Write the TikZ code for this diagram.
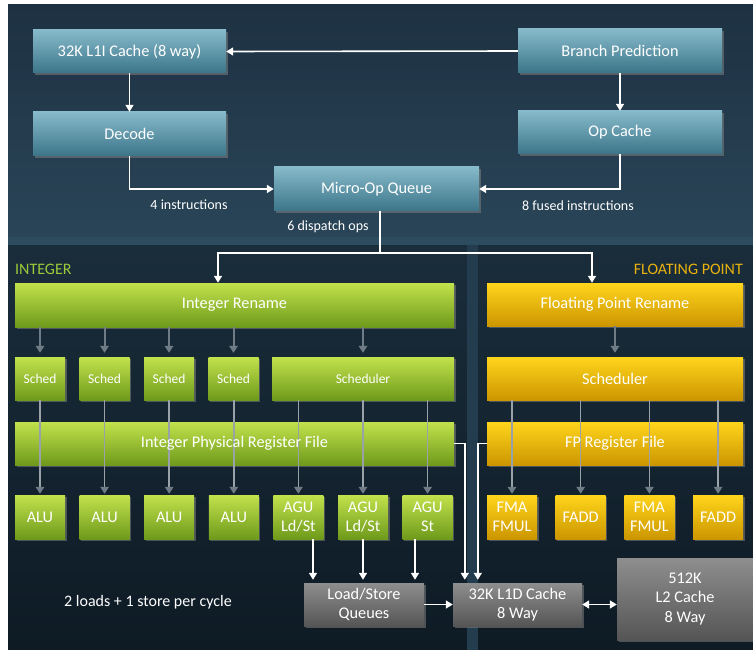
\documentclass[tikz,border=0pt]{standalone}
\usepackage{fontspec}
\setmainfont{Carlito}
\usepackage{tikz}
\usetikzlibrary{arrows.meta,shadows}

\definecolor{bgtop}{HTML}{1D3142}
\definecolor{bgmid}{HTML}{2A4558}
\definecolor{bgband}{HTML}{2E4C60}
\definecolor{bglow}{HTML}{1A2D3B}
\definecolor{bgdeep}{HTML}{0E1B25}
\definecolor{bgvert}{HTML}{233C4E}
\definecolor{tealtop}{HTML}{86BACA}
\definecolor{tealbot}{HTML}{3C7589}
\definecolor{greentop}{HTML}{C2E24C}
\definecolor{greenbot}{HTML}{6E9A1B}
\definecolor{goldtop}{HTML}{FFD51C}
\definecolor{goldbot}{HTML}{CC9600}
\definecolor{greytop}{HTML}{8E8E8E}
\definecolor{greybot}{HTML}{555555}
\definecolor{arrgrey}{HTML}{6F7C86}
\definecolor{passgrey}{HTML}{98A2A8}
\definecolor{intgreen}{HTML}{9CC93A}
\definecolor{fpgold}{HTML}{E8B10E}

\begin{document}
\begin{tikzpicture}[x=1pt, y=-1pt,
  blk/.style={rectangle, inner sep=0pt, align=center, text=white,
    font=\fontsize{16.3}{19.5}\selectfont,
    drop shadow={shadow xshift=1.5pt, shadow yshift=-2pt, opacity=0.55}},
  tealblk/.style={blk, top color=tealtop, bottom color=tealbot},
  greenblk/.style={blk, top color=greentop, bottom color=greenbot},
  goldblk/.style={blk, top color=goldtop, bottom color=goldbot},
  greyblk/.style={blk, top color=greytop, bottom color=greybot},
  lbl/.style={text=white, inner sep=0pt, font=\fontsize{14}{16}\selectfont},
  overtext/.style={text=white, inner sep=0pt, font=\fontsize{16.3}{19.5}\selectfont},
  wire/.style={draw=white, line width=1.6pt},
  wirearr/.style={wire, -{Triangle[length=7pt,width=8pt]}},
  greyarr/.style={draw=arrgrey, line width=2pt, -{Triangle[length=7pt,width=8.5pt]}},
  passarr/.style={draw=passgrey, line width=1.5pt,
    -{Triangle[length=7pt,width=8.5pt,color=arrgrey]}}
]

  % Hintergrund
  \useasboundingbox (0,0) rectangle (753,650);
  \fill[white] (0,0) rectangle (753,650);
  \fill[top color=bgtop, bottom color=bgmid] (8,5) rectangle (753,237);
  \fill[bgband] (8,237) rectangle (753,245);
  \fill[top color=bglow, bottom color=bgdeep] (8,245) rectangle (753,650);
  \fill[bgvert] (467,245) rectangle (478,650);

  % Front-End
  \node[tealblk, minimum width=193pt, minimum height=43pt] (l1i) at (129.5,51.5) {32K L1I Cache (8 way)};
  \node[tealblk, minimum width=204pt, minimum height=44pt] (bp)  at (620,51)     {Branch Prediction};
  \node[tealblk, minimum width=193pt, minimum height=44pt] (dec) at (129.5,134)  {Decode};
  \node[tealblk, minimum width=204pt, minimum height=43pt] (opc) at (620,132.5)  {Op Cache};
  \node[tealblk, minimum width=205pt, minimum height=44pt] (moq) at (376.5,189)  {Micro-Op Queue};

  % Integer-Teil
  \node[text=intgreen, anchor=west, inner sep=0pt, font=\fontsize{16}{19}\selectfont] (intlbl) at (15,269) {INTEGER};
  \node[greenblk, minimum width=439pt, minimum height=44pt] (irn) at (234.5,305) {Integer Rename};
  \foreach \i in {1,...,4}{
    \node[greenblk, minimum width=50pt, minimum height=43pt, font=\fontsize{13.5}{16}\selectfont]
      (s\i) at ({40+64.5*(\i-1)},378.5) {Sched};
  }
  \node[greenblk, minimum width=182pt, minimum height=43pt, font=\fontsize{13.5}{16}\selectfont]
    (sch) at (363,378.5) {Scheduler};
  \node[greenblk, minimum width=439pt, minimum height=43pt] (iprf) at (234.5,443.5) {};
  \foreach \i/\t in {1/ALU,2/ALU,3/ALU,4/ALU,5/{AGU\\Ld/St},6/{AGU\\Ld/St},7/{AGU\\St}}{
    \node[greenblk, minimum width=50pt, minimum height=44pt] (u\i) at ({40+64.6*(\i-1)},517) {\t};
  }

  % Floating-Point-Teil
  \node[text=fpgold, anchor=east, inner sep=0pt, font=\fontsize{16}{19}\selectfont] (fplbl) at (743,269) {FLOATING POINT};
  \node[goldblk, minimum width=256pt, minimum height=43pt] (frn)  at (615,304.5) {Floating Point Rename};
  \node[goldblk, minimum width=256pt, minimum height=43pt] (fsch) at (615,378.5) {Scheduler};
  \node[goldblk, minimum width=256pt, minimum height=43pt] (fprf) at (615,443.5) {};
  \foreach \i/\t in {1/{FMA\\FMUL},2/FADD,3/{FMA\\FMUL},4/FADD}{
    \node[goldblk, minimum width=50pt, minimum height=44pt] (f\i) at ({512+68.7*(\i-1)},517) {\t};
  }

  % Speicher
  \node[greyblk, minimum width=120pt, minimum height=43pt] (lsq) at (364,604.5)   {Load/Store\\Queues};
  \node[greyblk, minimum width=129pt, minimum height=43pt] (l1d) at (517.5,604.5) {32K L1D Cache\\8 Way};
  \node[greyblk, minimum width=136pt, minimum height=82pt] (l2)  at (685,599)     {512K\\L2 Cache\\8 Way};

  % Texte
  \node[lbl] (t4)  at (189,205) {4 instructions};
  \node[lbl] (t8)  at (578,206) {8 fused instructions};
  \node[lbl] (t6)  at (328,227) {6 dispatch ops};
  \node[lbl, font=\fontsize{16}{19}\selectfont] (tls) at (148,602) {2 loads + 1 store per cycle};

  % Pfeile Front-End
  \draw[wirearr] (bp.west) -- (l1i.east);
  \draw[wirearr] (l1i.south) -- (dec.north);
  \draw[wirearr] (bp.south) -- (opc.north);
  \draw[wirearr] (dec.south) |- (moq.west);
  \draw[wirearr] (opc.south) |- (moq.east);

  % Dispatch
  \coordinate (disp) at (380,253);
  \draw[wire] ([xshift=3.5pt]moq.south) -- (disp);
  \draw[wirearr] (disp) -| ([xshift=-16.5pt]irn.north);
  \draw[wirearr] (disp) -| ([xshift=-23pt]frn.north);

  % Rename -> Scheduler
  \foreach \s in {s1,s2,s3,s4,sch}{
    \draw[greyarr, shorten >=4pt] (irn.south -| \s.north) -- (\s.north);
  }
  \draw[greyarr, shorten >=4pt] (frn.south) -- (fsch.north);

  % Scheduler -> Einheiten (durch die Registerdatei)
  \foreach \i in {1,...,4}{
    \draw[passarr, shorten >=1pt] (u\i.north |- s\i.south) -- (u\i.north);
  }
  \foreach \i in {5,6,7}{
    \draw[passarr, shorten >=1pt] (u\i.north |- sch.south) -- (u\i.north);
  }
  \foreach \i in {1,...,4}{
    \draw[passarr, shorten >=1pt] (f\i.north |- fsch.south) -- (f\i.north);
  }

  % Beschriftung der Registerdateien ueber den Linien
  \node[overtext] (iprftxt) at (iprf.center) {Integer Physical Register File};
  \node[overtext] (fprftxt) at (fprf.center) {FP Register File};

  % AGU -> Load/Store
  \draw[wirearr, shorten >=3pt] ([xshift=14.6pt]u5.south) -- ([xshift=14.6pt]u5.south |- lsq.north);
  \draw[wirearr, shorten >=3pt] (u6.south) -- (u6.south |- lsq.north);
  \draw[wirearr, shorten >=3pt] ([xshift=-12.6pt]u7.south) -- ([xshift=-12.6pt]u7.south |- lsq.north);

  % Registerdateien -> L1D
  \draw[wirearr, shorten >=3pt] (iprf.east) -| ([xshift=12pt]l1d.north west);
  \draw[wirearr, shorten >=3pt] (fprf.west) -| ([xshift=25pt]l1d.north west);

  % Caches
  \draw[wirearr] (lsq.east) -- (l1d.west);
  \draw[wire, {Triangle[length=7pt,width=8pt]}-{Triangle[length=7pt,width=8pt]}] (l1d.east) -- (l1d.east -| l2.west);

\end{tikzpicture}
\end{document}
